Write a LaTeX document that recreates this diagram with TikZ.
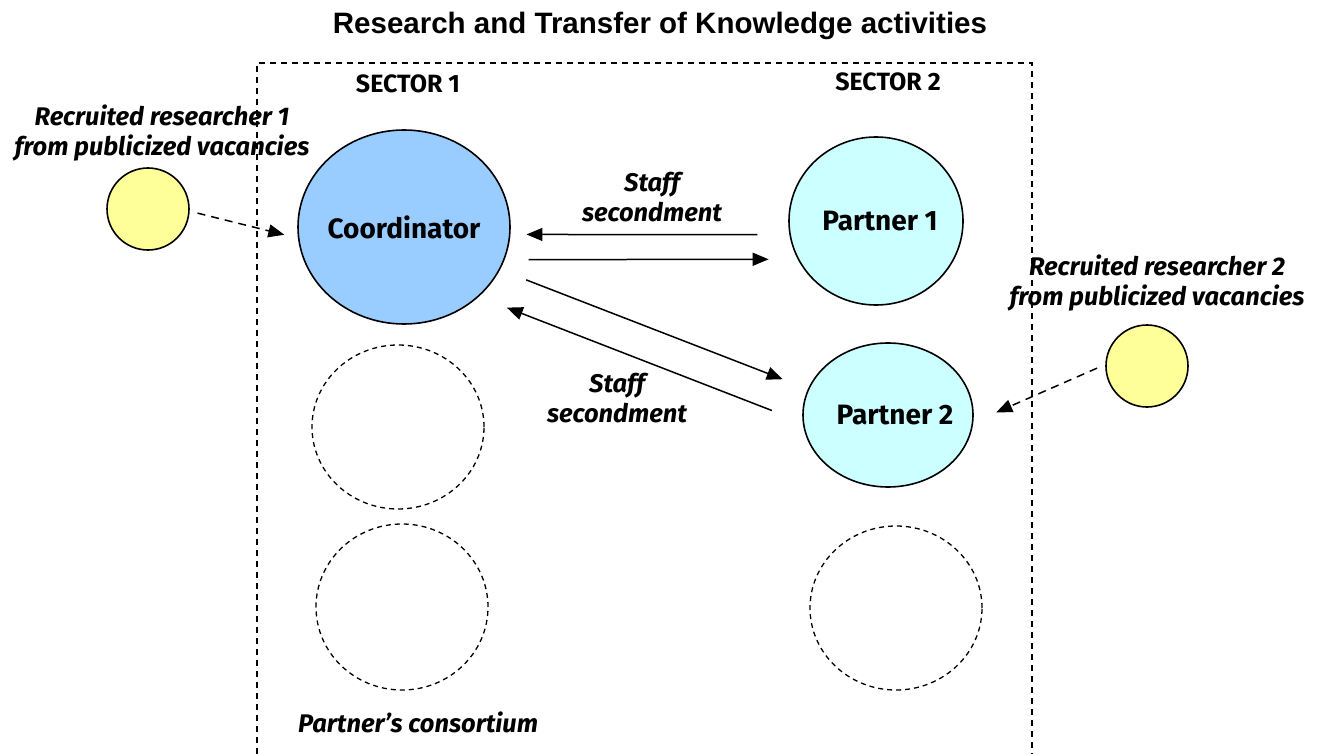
\documentclass[tikz,border=0pt]{standalone}
\usepackage{fontspec}
\setmainfont{Fira Sans}
\newfontfamily\titlefont{Liberation Sans}
\usetikzlibrary{arrows.meta,shapes.geometric}
\definecolor{coordblue}{HTML}{99CCFF}
\definecolor{partcyan}{HTML}{CCFFFF}
\definecolor{recyellow}{HTML}{FFFF99}

\begin{document}
\begin{tikzpicture}[x=1pt,y=-1pt,line width=1.5pt,>={Triangle[length=16pt,width=13pt]},
    site/.style={ellipse,draw,inner sep=0pt,line width=1.6pt},
    empty site/.style={site,dashed,dash pattern=on 5pt off 4pt,line width=1.3pt},
    recruit/.style={circle,draw,fill=recyellow,minimum size=82pt,inner sep=0pt,line width=1.6pt},
    site label/.style={font=\fontsize{28}{32}\selectfont\bfseries},
    sector/.style={font=\fontsize{25}{28}\selectfont\bfseries},
    note/.style={font=\fontsize{25.5}{30}\selectfont\bfseries\itshape,align=center},
    recruited/.style={->,dash pattern=on 8pt off 6pt}]
            \useasboundingbox (0,0) rectangle (1323,754);
            \draw[dash pattern=on 6pt off 5pt,line width=1.3pt] (257,754) -- (257,63) -- (1032,63) -- (1032,754);

            \node[font=\fontsize{29.5}{32}\selectfont\titlefont\bfseries] (title) at (660,26) {Research and Transfer of Knowledge activities};
            \node[sector] (s1) at (408,84) {SECTOR 1};
            \node[sector] (s2) at (888,82) {SECTOR 2};

            \node[site,fill=coordblue,minimum width=212pt,minimum height=194pt,label={[site label]center:Coordinator}] (coord) at (404,227) {};
            \node[site,fill=partcyan,minimum width=174pt,minimum height=168pt,label={[site label,xshift=4pt]center:Partner 1}] (p1) at (876,221) {};
            \node[site,fill=partcyan,minimum width=170pt,minimum height=144pt,label={[site label,xshift=7pt]center:Partner 2}] (p2) at (888,415) {};

            \node[empty site,minimum width=172pt,minimum height=164pt] (e1) at (398,427) {};
            \node[empty site,minimum width=172pt,minimum height=166pt] (e2) at (402,607) {};
            \node[empty site,minimum width=172pt,minimum height=164pt] (e3) at (896,608) {};

            \node[recruit] (r1) at (148,209) {};
            \node[recruit] (r2) at (1147,366) {};

            \node[note] (r1text) at (162,133) {Recruited researcher 1\\from publicized vacancies};
            \node[note] (r2text) at (1157,283) {Recruited researcher 2\\from publicized vacancies};
            \node[note] (sec1) at (652,197) {Staff\\secondment};
            \node[note] (sec2) at (617,398) {Staff\\secondment};
            \node[note] (cons) at (418,722) {Partner's consortium};

            \draw[->,shorten <=32pt,shorten >=16pt] (p1.189) -- (coord.356);
            \draw[->,shorten <=24pt,shorten >=29pt] (coord.342) -- (p1.206);
            \draw[->,shorten <=28pt,shorten >=27pt] (coord.336) -- (p2.162);
            \draw[->,shorten <=33pt,shorten >=30pt] (p2.185) -- (coord.317);
            \draw[recruited,shorten <=8pt,shorten >=14pt] (r1.357) -- (coord.186);
            \draw[recruited,shorten <=9pt,shorten >=25pt] (r2.178) -- (p2.355);
        \end{tikzpicture}
\end{document}
